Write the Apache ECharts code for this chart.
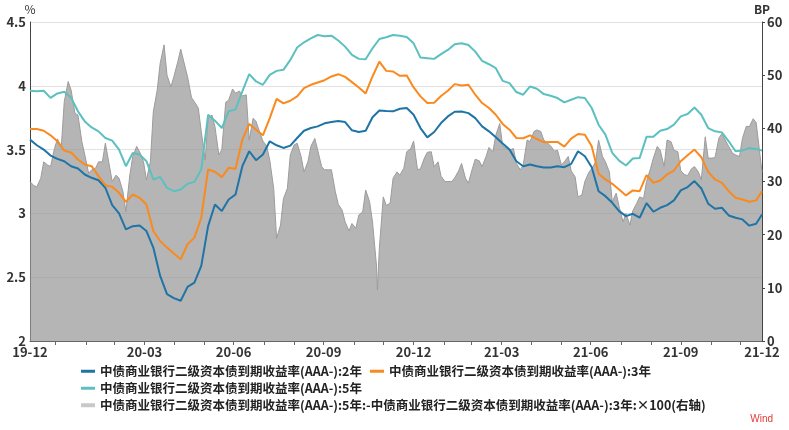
<!DOCTYPE html>
<html><head><meta charset="utf-8">
<script src="https://cdn.jsdelivr.net/npm/echarts@6/dist/echarts.min.js"></script>
<style>html,body{margin:0;padding:0;background:#fff}#c{width:789px;height:430px}</style>
</head><body><div id="c"></div>
<script>
const s2 = '中债商业银行二级资本债到期收益率(AAA-):2年';
const s3 = '中债商业银行二级资本债到期收益率(AAA-):3年';
const s5 = '中债商业银行二级资本债到期收益率(AAA-):5年';
const sp = '中债商业银行二级资本债到期收益率(AAA-):5年:-中债商业银行二级资本债到期收益率(AAA-):3年:×100(右轴)';

const xMin = '2019-12-05', xMax = '2021-12-22';
const monthEnds = ['2019-12-31','2020-01-31','2020-02-29','2020-03-31','2020-04-30','2020-05-31','2020-06-30','2020-07-31','2020-08-31','2020-09-30','2020-10-31','2020-11-30','2020-12-31','2021-01-31','2021-02-28','2021-03-31','2021-04-30','2021-05-31','2021-06-30','2021-07-31','2021-08-31','2021-09-30','2021-10-31','2021-11-30'];
const xLabelDates = ['2019-12-05','2020-03-31','2020-06-30','2020-09-30','2020-12-31','2021-03-31','2021-06-30','2021-09-30','2021-12-22'];

const dates = [
'2019-12-05','2019-12-12','2019-12-19','2019-12-26',
'2020-01-02','2020-01-09','2020-01-16','2020-01-23','2020-01-30',
'2020-02-06','2020-02-13','2020-02-20','2020-02-27',
'2020-03-05','2020-03-12','2020-03-19','2020-03-26',
'2020-04-02','2020-04-09','2020-04-16','2020-04-23','2020-04-30',
'2020-05-07','2020-05-14','2020-05-21','2020-05-28',
'2020-06-04','2020-06-11','2020-06-18','2020-06-25',
'2020-07-02','2020-07-09','2020-07-16','2020-07-23','2020-07-30',
'2020-08-06','2020-08-13','2020-08-20','2020-08-27',
'2020-09-03','2020-09-10','2020-09-17','2020-09-24',
'2020-10-01','2020-10-08','2020-10-15','2020-10-22','2020-10-29',
'2020-11-05','2020-11-12','2020-11-19','2020-11-26',
'2020-12-03','2020-12-10','2020-12-17','2020-12-24','2020-12-31',
'2021-01-07','2021-01-14','2021-01-21','2021-01-28',
'2021-02-04','2021-02-11','2021-02-18','2021-02-25',
'2021-03-04','2021-03-11','2021-03-18','2021-03-25',
'2021-04-01','2021-04-08','2021-04-15','2021-04-22','2021-04-29',
'2021-05-06','2021-05-13','2021-05-20','2021-05-27',
'2021-06-03','2021-06-10','2021-06-17','2021-06-24',
'2021-07-01','2021-07-08','2021-07-15','2021-07-22','2021-07-29',
'2021-08-05','2021-08-12','2021-08-19','2021-08-26',
'2021-09-02','2021-09-09','2021-09-16','2021-09-23','2021-09-30',
'2021-10-07','2021-10-14','2021-10-21','2021-10-28',
'2021-11-04','2021-11-11','2021-11-18','2021-11-25',
'2021-12-02','2021-12-09','2021-12-16','2021-12-22'];

const y2 = [
3.578,3.534,3.50,3.453,
3.427,3.409,3.37,3.352,3.305,
3.279,3.26,3.201,3.065,
3.00,2.875,2.90,2.905,
2.862,2.732,2.51,2.367,2.336,
2.315,2.424,2.458,2.589,
2.90,3.07,3.018,3.109,
3.148,3.37,3.487,3.417,3.461,
3.565,3.534,3.513,3.531,
3.591,3.648,3.669,3.682,
3.706,3.716,3.724,3.716,3.651,
3.638,3.648,3.753,3.807,
3.802,3.80,3.82,3.826,3.773,
3.669,3.596,3.638,3.708,
3.76,3.797,3.799,3.786,
3.747,3.682,3.643,3.596,
3.547,3.50,3.409,3.37,3.383,
3.37,3.36,3.359,3.37,
3.362,3.388,3.487,3.448,
3.362,3.174,3.135,3.083,3.018,
2.979,2.997,2.966,3.081,
3.013,3.044,3.065,3.102,3.18,
3.206,3.253,3.195,3.076,
3.036,3.044,2.984,2.966,
2.953,2.904,2.919,2.992];

const y3 = [
3.661,3.661,3.648,3.612,
3.565,3.492,3.477,3.422,3.383,
3.37,3.292,3.221,3.208,
3.161,3.09,3.148,3.122,
3.07,2.862,2.784,2.732,2.685,
2.641,2.758,2.81,2.966,
3.344,3.326,3.284,3.357,
3.35,3.578,3.701,3.656,3.612,
3.747,3.898,3.862,3.883,
3.917,3.982,4.008,4.026,
4.044,4.073,4.091,4.07,4.029,
3.987,3.94,4.073,4.19,
4.117,4.112,4.078,4.081,3.987,
3.917,3.865,3.867,3.92,
3.961,4.013,4.003,4.008,
3.93,3.865,3.826,3.773,
3.701,3.656,3.591,3.589,3.612,
3.583,3.558,3.56,3.56,
3.523,3.586,3.622,3.617,
3.526,3.31,3.266,3.232,3.188,
3.141,3.18,3.174,3.30,
3.24,3.258,3.305,3.336,3.409,
3.456,3.50,3.44,3.326,
3.266,3.24,3.174,3.122,
3.109,3.091,3.102,3.174];

const y5 = [
3.961,3.958,3.961,3.905,
3.94,3.953,3.906,3.80,3.721,
3.674,3.643,3.591,3.57,
3.50,3.37,3.474,3.461,
3.409,3.266,3.286,3.20,3.174,
3.188,3.232,3.247,3.344,
3.773,3.727,3.669,3.80,
3.815,3.956,4.091,4.034,4.008,
4.086,4.117,4.125,4.203,
4.30,4.341,4.372,4.398,
4.388,4.393,4.355,4.307,4.242,
4.211,4.208,4.294,4.367,
4.38,4.398,4.393,4.383,4.333,
4.221,4.216,4.211,4.248,
4.281,4.326,4.333,4.32,
4.268,4.195,4.169,4.138,
4.039,4.021,3.951,3.93,3.995,
3.977,3.935,3.922,3.904,
3.87,3.891,3.911,3.904,
3.826,3.695,3.617,3.474,3.414,
3.375,3.43,3.435,3.60,
3.60,3.648,3.661,3.695,3.76,
3.779,3.83,3.773,3.669,
3.643,3.635,3.565,3.487,
3.492,3.513,3.505,3.492];

const spreadDates = [
'2019-12-05','2019-12-09','2019-12-12','2019-12-16','2019-12-19','2019-12-23','2019-12-26','2019-12-30',
'2020-01-02','2020-01-06','2020-01-09','2020-01-13','2020-01-16','2020-01-20','2020-01-23','2020-01-27',
'2020-01-30','2020-02-03','2020-02-06','2020-02-10','2020-02-13','2020-02-17','2020-02-20','2020-02-24',
'2020-02-27','2020-03-02','2020-03-05','2020-03-09','2020-03-12','2020-03-16','2020-03-19','2020-03-23',
'2020-03-26','2020-03-30','2020-04-02','2020-04-06','2020-04-09','2020-04-13','2020-04-16','2020-04-20',
'2020-04-23','2020-04-27','2020-04-30','2020-05-04','2020-05-07','2020-05-11','2020-05-14','2020-05-18',
'2020-05-21','2020-05-25','2020-05-28','2020-06-01','2020-06-04','2020-06-08','2020-06-11','2020-06-15',
'2020-06-18','2020-06-22','2020-06-25','2020-06-29','2020-07-02','2020-07-06','2020-07-09','2020-07-13',
'2020-07-16','2020-07-20','2020-07-23','2020-07-27','2020-07-30','2020-08-03','2020-08-06','2020-08-10',
'2020-08-13','2020-08-17','2020-08-20','2020-08-24','2020-08-27','2020-08-31','2020-09-03','2020-09-07',
'2020-09-10','2020-09-14','2020-09-17','2020-09-21','2020-09-24','2020-09-28','2020-10-01','2020-10-05',
'2020-10-08','2020-10-12','2020-10-15','2020-10-19','2020-10-22','2020-10-26','2020-10-29','2020-11-02',
'2020-11-05','2020-11-09','2020-11-12','2020-11-16','2020-11-19','2020-11-23','2020-11-24','2020-11-26','2020-11-30',
'2020-12-03','2020-12-07','2020-12-10','2020-12-14','2020-12-17','2020-12-21','2020-12-24','2020-12-28',
'2020-12-31','2021-01-04','2021-01-07','2021-01-11','2021-01-14','2021-01-18','2021-01-21','2021-01-25',
'2021-01-28','2021-02-01','2021-02-04','2021-02-08','2021-02-11','2021-02-15','2021-02-18','2021-02-22',
'2021-02-25','2021-03-01','2021-03-04','2021-03-08','2021-03-11','2021-03-15','2021-03-18','2021-03-22',
'2021-03-25','2021-03-29','2021-04-01','2021-04-05','2021-04-08','2021-04-12','2021-04-15','2021-04-19',
'2021-04-22','2021-04-26','2021-04-29','2021-05-03','2021-05-06','2021-05-10','2021-05-13','2021-05-17',
'2021-05-20','2021-05-24','2021-05-27','2021-05-31','2021-06-03','2021-06-07','2021-06-10','2021-06-14',
'2021-06-17','2021-06-21','2021-06-24','2021-06-28','2021-07-01','2021-07-05','2021-07-08','2021-07-12',
'2021-07-15','2021-07-19','2021-07-22','2021-07-26','2021-07-29','2021-08-02','2021-08-05','2021-08-09',
'2021-08-12','2021-08-16','2021-08-19','2021-08-23','2021-08-26','2021-08-30','2021-09-02','2021-09-06',
'2021-09-09','2021-09-13','2021-09-16','2021-09-20','2021-09-23','2021-09-27','2021-09-30','2021-10-04',
'2021-10-07','2021-10-11','2021-10-14','2021-10-18','2021-10-21','2021-10-25','2021-10-28','2021-11-01',
'2021-11-04','2021-11-08','2021-11-11','2021-11-15','2021-11-18','2021-11-22','2021-11-25','2021-11-29',
'2021-12-02','2021-12-06','2021-12-09','2021-12-13','2021-12-16','2021-12-22'];

const spread = [
30.0,29.2,29.0,30.6,33.7,33.1,32.8,36.2,
38.0,36.6,45.0,48.8,47.2,42.8,42.5,37.5,
35.0,31.5,32.2,32.5,33.7,33.7,37.2,33.1,
30.0,31.2,30.6,28.1,24.3,31.2,34.7,36.6,
35.6,33.7,30.3,33.7,43.1,47.2,52.2,55.7,
50.0,47.8,49.7,52.5,54.9,51.9,49.7,45.8,
45.0,43.8,39.4,34.0,41.9,42.5,40.3,35.0,
36.0,44.9,45.3,47.4,46.6,47.0,46.1,46.3,
37.8,41.9,41.3,39.1,37.6,36.6,34.0,28.7,
19.3,21.8,26.8,28.7,35.0,36.9,37.2,34.7,
31.8,33.7,36.6,38.1,35.9,32.8,32.2,32.2,
32.2,28.1,25.7,24.6,22.4,20.7,22.1,21.2,
23.7,24.3,28.4,26.2,22.4,14.3,9.6,17.5,27.1,
25.5,25.9,30.6,31.8,31.2,32.5,35.6,36.2,
37.6,32.2,32.4,34.4,35.5,35.6,32.8,33.7,
31.0,30.0,30.0,30.0,30.7,32.0,33.4,30.6,
29.7,32.4,34.2,33.9,32.8,34.7,36.4,35.6,
38.7,40.9,36.7,36.2,35.9,36.2,33.4,32.2,
33.1,37.8,37.5,39.4,39.7,39.4,37.8,37.2,
36.7,35.7,35.9,33.1,33.7,34.7,32.0,30.9,
27.1,27.5,30.0,31.7,32.4,33.7,37.8,34.7,
33.7,31.8,26.2,27.8,25.3,22.4,24.0,21.8,
24.5,25.9,27.1,26.8,30.0,32.4,34.4,36.6,
35.9,32.8,37.8,37.5,35.9,35.6,32.0,31.3,
31.1,32.4,32.8,31.8,30.3,38.4,34.4,34.4,
34.5,38.2,39.0,37.6,36.6,35.3,35.0,34.7,
38.1,40.4,40.3,41.8,41.1,31.8];

function ts(s){const p=s.split('-');return Date.UTC(+p[0],+p[1]-1,+p[2]);}
const pair=(ds,vs)=>ds.map((d,i)=>[ts(d),vs[i]]);
const FONT='"Noto Sans CJK SC","Noto Sans",sans-serif';
const axisLabelStyle={color:'#333',fontWeight:'bold',fontSize:13,fontFamily:FONT};
const legendText={fontSize:12.5,fontWeight:'bold',color:'#222',fontFamily:FONT};
const legendBase={icon:'rect',itemWidth:14,itemHeight:3,itemGap:0,padding:0,selectedMode:false,textStyle:legendText};

const chart=echarts.init(document.getElementById('c'),null,{renderer:'canvas'});
chart.setOption({
  animation:false,
  backgroundColor:'#fff',
  grid:{left:30,right:27,top:22,bottom:89},
  xAxis:{
    type:'value',min:ts(xMin),max:ts(xMax),
    axisLine:{lineStyle:{color:'#666',width:1}},
    axisTick:{show:true,customValues:monthEnds.map(ts),length:4,lineStyle:{color:'#666'}},
    axisLabel:Object.assign({customValues:xLabelDates.map(ts),margin:5,
      formatter:function(v){const d=new Date(v);return String(d.getUTCFullYear()).slice(2)+'-'+String(d.getUTCMonth()+1).padStart(2,'0');}},axisLabelStyle),
    splitLine:{show:false}
  },
  yAxis:[
    {type:'value',min:2,max:4.5,interval:0.5,name:'%',nameGap:6,
     nameTextStyle:{color:'#333',fontSize:12,fontFamily:FONT},
     axisLine:{show:true,lineStyle:{color:'#444'}},axisTick:{show:false},
     axisLabel:Object.assign({margin:4},axisLabelStyle),
     splitLine:{show:true,lineStyle:{color:'#e2e2e2',width:1}}},
    {type:'value',min:0,max:60,interval:10,name:'BP',nameGap:6,position:'right',
     nameTextStyle:{color:'#333',fontSize:12,fontWeight:'bold',fontFamily:FONT},
     axisLine:{show:true,lineStyle:{color:'#444'}},axisTick:{show:true,length:3,lineStyle:{color:'#444'}},
     axisLabel:Object.assign({margin:5},axisLabelStyle),
     splitLine:{show:false}}
  ],
  legend:[
    Object.assign({left:81,top:365,data:[s2]},legendBase),
    Object.assign({left:370,top:365,data:[s3]},legendBase),
    Object.assign({left:81,top:382,data:[s5]},legendBase),
    Object.assign({},legendBase,{left:81,top:399,itemHeight:4,data:[sp]})
  ],
  series:[
    {name:sp,type:'line',yAxisIndex:1,data:pair(spreadDates,spread),showSymbol:false,z:1,
     itemStyle:{color:'#c8c8c8'},lineStyle:{color:'#9c9c9c',width:1},
     areaStyle:{color:'rgba(150,150,150,0.7)',opacity:1}},
    {name:s2,type:'line',yAxisIndex:0,data:pair(dates,y2),showSymbol:false,z:3,
     itemStyle:{color:'#1f74a6'},lineStyle:{color:'#1f74a6',width:2}},
    {name:s3,type:'line',yAxisIndex:0,data:pair(dates,y3),showSymbol:false,z:3,
     itemStyle:{color:'#fa8a1e'},lineStyle:{color:'#fa8a1e',width:2}},
    {name:s5,type:'line',yAxisIndex:0,data:pair(dates,y5),showSymbol:false,z:3,
     itemStyle:{color:'#5cc0c0'},lineStyle:{color:'#5cc0c0',width:2}}
  ],
  graphic:[{type:'text',right:16,top:414,style:{text:'Wind',fill:'#e53935',font:'10px sans-serif'}}]
});
</script></body></html>
